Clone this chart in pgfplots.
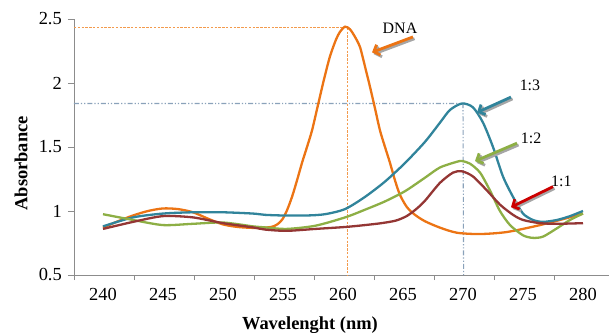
\documentclass[border=0pt]{standalone}
\usepackage{fontspec}
\setmainfont{Liberation Serif}
\usepackage{pgfplots}
\pgfplotsset{compat=1.18}
\usetikzlibrary{arrows.meta}
\definecolor{cDNA}{HTML}{EC7414}
\definecolor{cT}{HTML}{31849B}
\definecolor{cG}{HTML}{8DAF45}
\definecolor{cR}{HTML}{943634}
\definecolor{cRa}{HTML}{CC0000}
\definecolor{axisgray}{HTML}{8C8C8C}
\definecolor{guideO}{HTML}{F39A4C}
\definecolor{guideT}{HTML}{8AA2BA}
\newcommand{\annarrow}[5]{%
  \draw[line width=2.8bp, black!35, -{Straight Barb[length=5bp,width=11bp]}, shift={(1.6bp,-1.8bp)}] (axis cs:#1,#2) -- (axis cs:#3,#4);
  \draw[line width=2.8bp, #5, -{Straight Barb[length=5bp,width=11bp]}] (axis cs:#1,#2) -- (axis cs:#3,#4);}
\begin{document}
\begin{tikzpicture}
\useasboundingbox (-74bp,-58bp) rectangle (535bp,275bp);
\begin{axis}[
  scale only axis, width=535bp, height=256bp,
  xmin=237.583, xmax=282.167, ymin=0.5, ymax=2.5,
  axis x line=bottom, axis y line=left,
  axis line style={-, draw=axisgray, line width=0.9bp},
  tick align=outside,
  xtick={240,245,...,280},
  major x tick style={draw=none},
  minor xtick={237.583,242.583,247.583,252.583,257.583,262.583,267.583,272.583,277.583},
  minor tick length=5bp,
  major tick length=6bp,
  minor x tick style={draw=axisgray, line width=0.9bp},
  ytick={0.5,1,1.5,2,2.5},
  yticklabels={},
  major y tick style={draw=axisgray, line width=0.9bp},
  /pgf/number format/assume math mode=true,
  ticklabel style={font=\fontsize{18.5}{21}\selectfont},
  xticklabel style={yshift=-4bp},
  xlabel={\textbf{Wavelenght (nm)}},
  ylabel={\textbf{Absorbance}},
  every axis x label/.style={at={(axis description cs:0.441,-0.195)}, anchor=center, font=\fontsize{18.5}{21}\selectfont},
  every axis y label/.style={at={(axis description cs:-0.099,0.436)}, rotate=90, anchor=center, font=\fontsize{18.5}{21}\selectfont},
  clip=false,
]
% y tick labels
\pgfplotsinvokeforeach{0.5,1,1.5,2,2.5}{%
  \node[anchor=east, inner sep=0pt, font=\fontsize{18.5}{21}\selectfont] at (axis cs:237.583,#1) [xshift=-12bp] {#1};}
% guide lines
\draw[guideO, line width=1.1bp, dash pattern=on 2.5bp off 1.3bp] (axis cs:237.583,2.435) -- (axis cs:260.35,2.435) -- (axis cs:260.35,0.5);
\draw[guideT, line width=1.1bp, dash pattern=on 5bp off 2bp on 1.2bp off 2bp on 1.2bp off 2bp] (axis cs:237.583,1.84) -- (axis cs:270.0,1.84) -- (axis cs:270.05,0.5);

% DNA
\addplot[cDNA, line width=2.3bp, smooth, tension=0.45] table {
240 0.87
241.25 0.92
242.5 0.965
243.75 1.0
245 1.02
246.25 1.015
247.5 0.99
248.75 0.94
250 0.895
251.25 0.875
252.5 0.868
253.5 0.87
254.1 0.877
254.55 0.897
254.95 0.935
255.33 1.005
255.75 1.11
256.17 1.24
256.58 1.375
257 1.5
257.42 1.63
257.92 1.83
258.42 2.03
258.92 2.21
259.42 2.34
259.75 2.40
260.17 2.44
260.58 2.42
261.0 2.36
261.42 2.28
261.83 2.13
262.25 1.97
262.67 1.80
263.08 1.63
263.5 1.50
263.92 1.375
264.33 1.24
264.75 1.125
265.33 1.03
266 0.97
266.83 0.92
268.08 0.87
269.5 0.83
271.42 0.82
273.67 0.836
276.42 0.89
278.67 0.945
280 0.98
};
% 1:3
\addplot[cT, line width=2.3bp, smooth, tension=0.45] table {
240 0.88
242.5 0.95
245 0.98
247.5 0.99
250 0.99
252.5 0.98
253.5 0.97
255 0.965
257 0.965
258.5 0.975
260.17 1.015
261.83 1.11
263.5 1.23
265.17 1.375
266.83 1.54
268.08 1.69
268.92 1.79
269.92 1.84
270.83 1.81
271.67 1.69
272.5 1.5
273.33 1.27
274.17 1.11
275 0.98
275.83 0.93
276.67 0.915
277.83 0.93
278.92 0.96
280 1.0
};
% 1:2
\addplot[cG, line width=2.3bp, smooth, tension=0.45] table {
240 0.975
242.5 0.93
245 0.89
247.5 0.90
250 0.91
252.5 0.88
253.5 0.872
255.3 0.86
257.7 0.885
260.17 0.95
261.83 1.01
263.5 1.075
265.17 1.155
266.83 1.26
268.08 1.34
269.5 1.385
269.92 1.39
270.58 1.37
271.42 1.30
272.25 1.16
273.08 1.0
273.92 0.89
275 0.81
275.83 0.79
276.67 0.80
277.83 0.865
278.92 0.93
280 0.98
};
% 1:1
\addplot[cR, line width=2.3bp, smooth, tension=0.45] table {
240 0.86
242.5 0.915
245 0.96
247.5 0.95
250 0.905
252.5 0.872
253.5 0.855
255.3 0.845
257.7 0.86
260.17 0.875
261.83 0.89
263.2 0.905
264.4 0.925
265.3 0.96
266.1 1.015
266.83 1.08
268.08 1.22
269.17 1.30
269.92 1.31
270.83 1.27
272 1.16
273.08 1.05
274.17 0.97
275 0.93
276.42 0.905
277.83 0.90
280 0.905
};
% annotations
\node[font=\fontsize{16}{18}\selectfont] at (axis cs:264.75,2.43) {DNA};
\annarrow{265.83}{2.36}{262.42}{2.24}{cDNA}
\node[font=\fontsize{16}{18}\selectfont] at (axis cs:275.58,1.98) {1:3};
\annarrow{274.0}{1.89}{271.17}{1.77}{cT}
\node[font=\fontsize{16}{18}\selectfont] at (axis cs:275.67,1.57) {1:2};
\annarrow{274.5}{1.53}{271.0}{1.39}{cG}
\node[font=\fontsize{16}{18}\selectfont] at (axis cs:278.2,1.23) {1:1};
\annarrow{277.5}{1.19}{274.0}{1.03}{cRa}
\end{axis}
\end{tikzpicture}
\end{document}
